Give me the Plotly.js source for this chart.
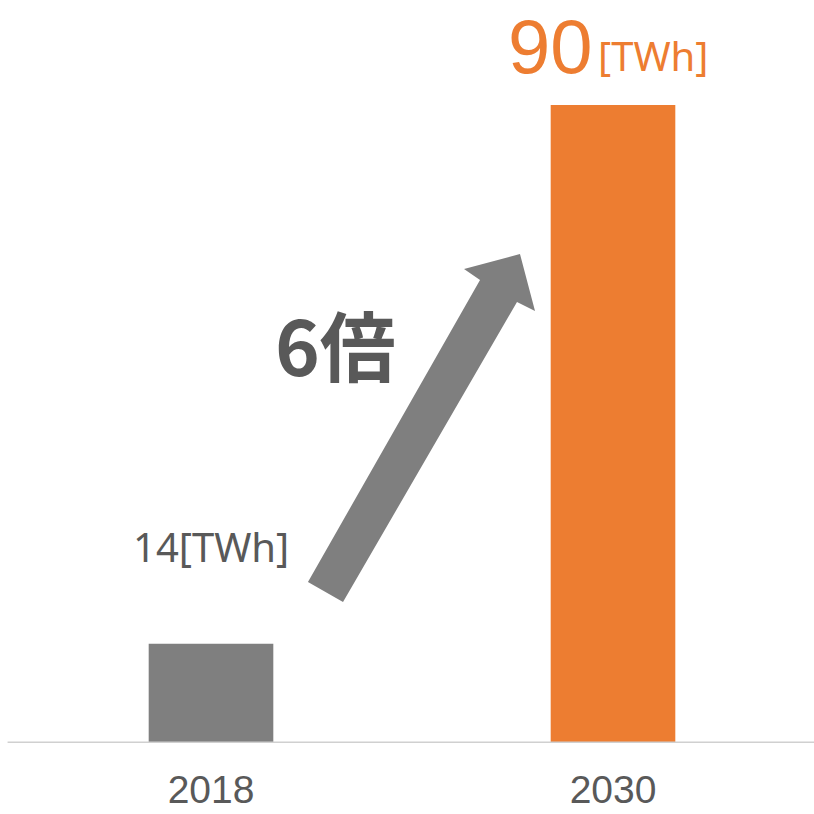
<!DOCTYPE html>
<html>
<head>
<meta charset="utf-8">
<script src="https://cdn.plot.ly/plotly-3.0.1.min.js"></script>
<style>html,body{margin:0;padding:0;background:#fff;}#chart{width:814px;height:814px;}</style>
</head>
<body>
<div id="chart"></div>
<script>
const years = ['2018', '2030'];
const values = [14, 90];
const barColors = ['#7f7f7f', '#ed7d31'];
const unit = '[TWh]';
const ratioLabel = '6倍';

const W = 814, H = 814;
const margin = {l: 10, r: 0, t: 34, b: 71};
const pw = W - margin.l - margin.r, ph = H - margin.t - margin.b;
function px(x) { return (x - margin.l) / pw; }
function py(y) { return (H - margin.b - y) / ph; }
// decorative arrow outline (pixel positions converted to paper space)
const arrowPts = [[308,582],[343,602],[517,302],[535,311],[520,254],[464,269],[480,280]];
const arrowPath = 'M ' + arrowPts.map(p => px(p[0]).toFixed(4) + ',' + py(p[1]).toFixed(4)).join(' L ') + ' Z';

const font = '"Noto Sans", "Noto Sans CJK JP", sans-serif';
const tightFont = '"Liberation Sans", Arial, sans-serif';
const idx = years.map((_, i) => i);

Plotly.newPlot('chart', [{
  type: 'bar',
  x: idx,
  y: values,
  width: 0.31,
  marker: {color: barColors, line: {width: 0}},
  hoverinfo: 'none'
}], {
  width: W, height: H,
  margin: margin,
  paper_bgcolor: '#ffffff',
  plot_bgcolor: '#ffffff',
  showlegend: false,
  xaxis: {
    type: 'linear',
    range: [-0.5, 1.5],
    tickmode: 'array',
    tickvals: idx,
    ticktext: years,
    showgrid: false,
    zeroline: false,
    showline: false,
    ticks: '',
    tickfont: {family: tightFont, size: 39, color: '#595959'},
    ticklabelstandoff: 20
  },
  yaxis: {
    range: [0, 100],
    showgrid: false,
    zeroline: false,
    showticklabels: false,
    showline: false,
    ticks: ''
  },
  shapes: [
    {
      type: 'line', xref: 'paper', yref: 'y',
      x0: -0.003, x1: 1, y0: 0, y1: 0,
      line: {color: '#d0d0d0', width: 3}
    },
    {
      type: 'path', xref: 'paper', yref: 'paper',
      path: arrowPath,
      fillcolor: '#7f7f7f', line: {width: 0}
    }
  ],
  annotations: [
    {
      x: idx[0], y: values[0], xref: 'x', yref: 'y',
      text: values[0] + unit,
      showarrow: false, yanchor: 'bottom', yshift: 68,
      font: {family: font, size: 40, color: '#595959'}
    },
    {
      x: idx[1], y: values[1], xref: 'x', yref: 'y',
      text: String(values[1]),
      showarrow: false, xanchor: 'right', yanchor: 'bottom', yshift: 14, xshift: -18,
      font: {family: tightFont, size: 76, color: '#ed7d31'}
    },
    {
      x: idx[1], y: values[1], xref: 'x', yref: 'y',
      text: unit,
      showarrow: false, xanchor: 'left', yanchor: 'bottom', yshift: 20, xshift: -17,
      font: {family: font, size: 40, color: '#ed7d31'}
    },
    {
      x: px(335), y: py(343), xref: 'paper', yref: 'paper',
      text: '<b>' + ratioLabel + '</b>',
      showarrow: false, xanchor: 'center', yanchor: 'middle',
      font: {family: '"Noto Sans CJK JP", sans-serif', size: 76, color: '#595959'}
    }
  ]
}, {displayModeBar: false, staticPlot: true});
</script>
</body>
</html>
